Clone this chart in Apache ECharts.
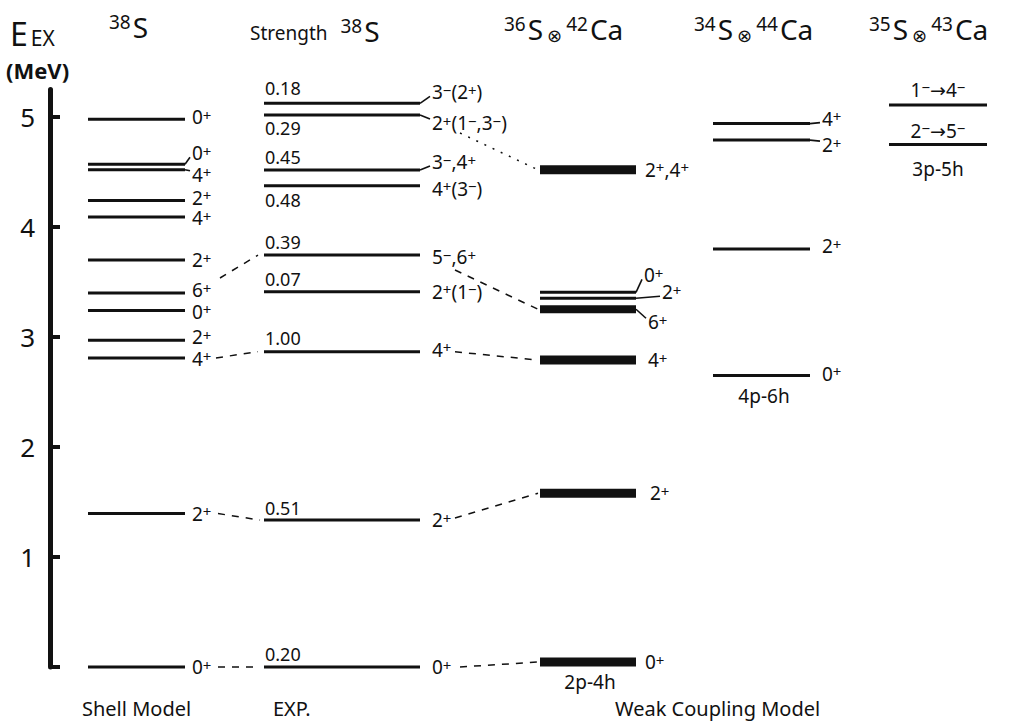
<!DOCTYPE html>
<html><head><meta charset="utf-8">
<script src="https://cdn.jsdelivr.net/npm/echarts@6/dist/echarts.min.js"></script>
<style>html,body{margin:0;padding:0;background:#fff}#c{width:1019px;height:725px}</style>
</head><body><div id="c"></div>
<script>
// ---------------- DATA ----------------
const yTickValues = [0, 1, 2, 3, 4, 5];
const yTickLabels = ['', '1', '2', '3', '4', '5'];

// Shell model 38S
const shellE = [0, 1.395, 2.81, 2.97, 3.24, 3.40, 3.70, 4.09, 4.24, 4.52, 4.57, 4.98];
const shellJ = ['0+', '2+', '4+', '2+', '0+', '6+', '2+', '4+', '2+', '4+', '0+', '0+'];

// Experiment 38S
const expE = [0, 1.336, 2.866, 3.412, 3.745, 4.375, 4.518, 5.018, 5.124];
const expJ = ['0+', '2+', '4+', '2+(1-)', '5-,6+', '4+(3-)', '3-,4+', '2+(1-,3-)', '3-(2+)'];
const expStrength = ['0.20', '0.51', '1.00', '0.07', '0.39', '0.48', '0.45', '0.29', '0.18'];

// Weak coupling 36S x 42Ca (2p-4h)
const wc42E = [0.045, 1.58, 2.79, 3.252, 3.352, 3.406, 4.52];
const wc42J = ['0+', '2+', '4+', '6+', '2+', '0+', '2+,4+'];

// Weak coupling 34S x 44Ca (4p-6h)
const wc44E = [2.65, 3.80, 4.79, 4.94];
const wc44J = ['0+', '2+', '2+', '4+'];

// Weak coupling 35S x 43Ca (3p-5h)
const wc43E = [4.75, 5.11];
const wc43J = ['2-→5-', '1-→4-'];

// correspondences drawn as dashed lines: [fromColumn, fromIndex, toColumn, toIndex]
const linkPairs = [
  ['shell', 0, 'exp', 0], ['exp', 0, 'wc42', 0],
  ['shell', 1, 'exp', 1], ['exp', 1, 'wc42', 1],
  ['shell', 2, 'exp', 2], ['exp', 2, 'wc42', 2],
  ['shell', 5, 'exp', 4], ['exp', 4, 'wc42', 3],
  ['exp', 7, 'wc42', 6]
];

// ---------------- LAYOUT / STYLE ----------------
const FONT = '"Noto Sans", "DejaVu Sans", sans-serif';
const INK = '#111';
const COLS = {
  shell: { E: shellE, J: shellJ, x1: 88, x2: 185, lw: 3, labelX: 192,
           labelDy: [0, 0, 1, -3, 1, -3, 0, 1, -3, 5, -11, -2] },
  exp:   { E: expE, J: expJ, x1: 264, x2: 420, lw: 3, labelX: 432,
           labelDy: [0, 0, -2, 0, 2, 3, -8, 8, -11],
           strX: 265, strDy: [-13, -12, -14, -13, -13, 14, -13, 13, -15] },
  wc42:  { E: wc42E, J: wc42J, x1: 540, x2: 636,
           width: [9, 9, 9, 8, 3, 3, 9], labelX: [645, 650, 648, 648, 662, 644, 645],
           labelDy: [0, 0, 0, 13, -6, -17, 0],
           connect: [0, 0, 0, 1, 1, 1, 0] },
  wc44:  { E: wc44E, J: wc44J, x1: 713, x2: 810, lw: 3, labelX: 822,
           labelDy: [-2, -3, 5, -5] },
  wc43:  { E: wc43E, J: wc43J, x1: 889, x2: 987, lw: 3, labelCenter: 938,
           labelDy: [-14, -15] }
};
// geometry of the dashed links: [x1, dy1, x2, dy2, dotted]
const linkGeom = [
  [218, 0, 260, 0, 0], [460, 0, 538, 0, 0],
  [218, 0, 260, 0, 0], [455, -2, 538, 0, 0],
  [216, 0, 258, 0, 0], [455, 0, 538, 0, 0],
  [220, -15, 258, 0, 0], [455, 15, 538, 0, 0],
  [460, 18, 538, 0, 1]
];

function jRich(s) {
  let out = '', run = '';
  const flush = () => { if (run) { out += '{n|' + run + '}'; run = ''; } };
  for (const ch of s) {
    if (ch === '+' || ch === '-') { flush(); out += '{sup|' + (ch === '+' ? '+' : '−') + '}'; }
    else run += ch;
  }
  flush();
  return out;
}
const RICH = {
  n: { fontSize: 19, fontFamily: FONT, fill: INK, color: INK, lineHeight: 20 },
  sup: { fontSize: 15, fontFamily: FONT, fill: INK, color: INK, lineHeight: 4, verticalAlign: 'top' }
};

function textEl(str, x, y, align, size) {
  return { type: 'text', style: {
    text: str, x: x, y: y, align: align || 'left', textAlign: align || 'left',
    verticalAlign: 'middle', textVerticalAlign: 'middle',
    fontSize: size || 19, fontFamily: FONT, fill: INK, rich: RICH } };
}

function levelSeries(key) {
  const L = COLS[key];
  return {
    type: 'custom', name: key, coordinateSystem: 'cartesian2d', silent: true, z: 3,
    data: L.E.map((e, i) => [L.x1, e, i]),
    encode: { x: 0, y: 1 },
    renderItem(params, api) {
      const i = api.value(2), e = api.value(1);
      const p1 = api.coord([L.x1, e]);
      const p2 = api.coord([L.x2, e]);
      const lw = L.width ? L.width[i] : L.lw;
      const children = [{ type: 'line', shape: { x1: p1[0], y1: p1[1], x2: p2[0], y2: p2[1] },
        style: { stroke: INK, lineWidth: lw, lineCap: 'butt' } }];
      const dy = L.labelDy ? L.labelDy[i] : 0;
      const ly = p1[1] + dy;
      if (L.labelCenter) {
        children.push(textEl(jRich(L.J[i]), L.labelCenter, ly, 'center'));
      } else {
        const lx = Array.isArray(L.labelX) ? L.labelX[i] : L.labelX;
        children.push(textEl(jRich(L.J[i]), lx, ly, 'left'));
        if (Math.abs(dy) >= 5 || (L.connect && L.connect[i])) {
          children.push({ type: 'line', shape: { x1: p2[0], y1: p1[1], x2: lx - 2, y2: ly + (dy < 0 ? 4 : dy > 0 ? -4 : 0) },
            style: { stroke: INK, lineWidth: 1.6 } });
        }
      }
      if (L.strDy) {
        children.push({ type: 'text', style: { text: expStrength[i], x: L.strX, y: p1[1] + L.strDy[i],
          align: 'left', verticalAlign: 'middle', textAlign: 'left', textVerticalAlign: 'middle',
          fontSize: 18, fontFamily: FONT, fill: INK } });
      }
      return { type: 'group', children };
    }
  };
}

const linkData = linkPairs.map((p, k) => [0, 0, k]);
const linkSeries = {
  type: 'custom', name: 'links', coordinateSystem: 'cartesian2d', silent: true, z: 2,
  data: linkData, encode: { x: 0, y: 1 },
  renderItem(params, api) {
    const k = api.value(2);
    const p = linkPairs[k], g = linkGeom[k];
    const e1 = COLS[p[0]].E[p[1]], e2 = COLS[p[2]].E[p[3]];
    const a = api.coord([g[0], e1]), b = api.coord([g[2], e2]);
    return { type: 'line', shape: { x1: a[0], y1: a[1] + g[1], x2: b[0], y2: b[1] + g[3] },
      style: { stroke: INK, lineWidth: 1.5, lineDash: g[4] ? [2, 7] : [7, 7] } };
  }
};

// extra annotations tied to levels (configuration labels)
const configNotes = [
  { col: 'wc42', idx: 0, text: '2p-4h', x: 590, dy: 20 },
  { col: 'wc44', idx: 0, text: '4p-6h', x: 764, dy: 20 },
  { col: 'wc43', idx: 0, text: '3p-5h', x: 938, dy: 24 }
];
const noteSeries = {
  type: 'custom', name: 'notes', coordinateSystem: 'cartesian2d', silent: true, z: 3,
  data: configNotes.map((n, k) => [n.x, COLS[n.col].E[n.idx], k]), encode: { x: 0, y: 1 },
  renderItem(params, api) {
    const n = configNotes[api.value(2)];
    const p = api.coord([n.x, api.value(1)]);
    return { type: 'text', style: { text: n.text, x: p[0], y: p[1] + n.dy, align: 'center', textAlign: 'center',
      verticalAlign: 'middle', textVerticalAlign: 'middle', fontSize: 19, fontFamily: FONT, fill: INK } };
  }
};

const HR = {
  m: { fontSize: 28, fontFamily: FONT, fill: INK, lineHeight: 30, padding: [0, 1, 0, 1] },
  E: { fontSize: 32, fontFamily: FONT, fill: INK, lineHeight: 30 },
  sup: { fontSize: 19, fontFamily: FONT, fill: INK, lineHeight: 10, verticalAlign: 'top', padding: [0, 1, 0, 1] },
  sub: { fontSize: 21, fontFamily: FONT, fill: INK, lineHeight: 14, verticalAlign: 'bottom', padding: [0, 0, 0, 3] },
  o: { fontSize: 18, fontFamily: FONT, fill: INK, lineHeight: 22, verticalAlign: 'bottom', padding: [0, 3, 0, 3] },
  s: { fontSize: 19, fontFamily: FONT, fill: INK, lineHeight: 30, padding: [4, 12, 0, 0] }
};
function htext(str, x, y) {
  return { type: 'text', x: x, y: y, style: { text: str, rich: HR, fontFamily: FONT, fill: INK } };
}
function plain(str, x, y, size, weight) {
  return { type: 'text', x: x, y: y, style: { text: str, fontSize: size, fontWeight: weight || 'normal', fontFamily: FONT, fill: INK } };
}

const chart = echarts.init(document.getElementById('c'), null, { renderer: 'svg' });
chart.setOption({
  animation: false,
  backgroundColor: '#fff',
  grid: { left: 50, right: 0, top: 89.5, bottom: 58, containLabel: false },
  xAxis: { type: 'value', min: 50, max: 1019, show: false },
  yAxis: {
    type: 'value', min: 0, max: 5.25, interval: 1,
    axisLine: { show: true, onZero: false, lineStyle: { color: INK, width: 5 } },
    axisTick: { show: true, inside: true, length: 10, customValues: yTickValues, lineStyle: { color: INK, width: 4 } },
    axisLabel: { show: true, customValues: yTickValues, margin: 15, fontSize: 26, fontFamily: FONT, color: INK,
      formatter: v => yTickLabels[yTickValues.indexOf(Math.round(v))] || '' },
    splitLine: { show: false }
  },
  graphic: [
    htext('{E|E}{sub|EX}', 10, 18),
    plain('(MeV)', 6, 59, 22, 'bold'),
    htext('{sup|38}{m|S}', 108, 12),
    htext('{s|Strength}{sup|38}{m|S}', 250, 16),
    htext('{sup|36}{m|S}{o|⊗}{sup|42}{m|Ca}', 503, 14),
    htext('{sup|34}{m|S}{o|⊗}{sup|44}{m|Ca}', 693, 14),
    htext('{sup|35}{m|S}{o|⊗}{sup|43}{m|Ca}', 868, 14),
    plain('Shell Model', 82, 698, 20),
    plain('EXP.', 273, 698, 20),
    plain('Weak Coupling Model', 615, 698, 20)
  ],
  series: [linkSeries, levelSeries('shell'), levelSeries('exp'), levelSeries('wc42'),
           levelSeries('wc44'), levelSeries('wc43'), noteSeries]
});
</script>
</body></html>
